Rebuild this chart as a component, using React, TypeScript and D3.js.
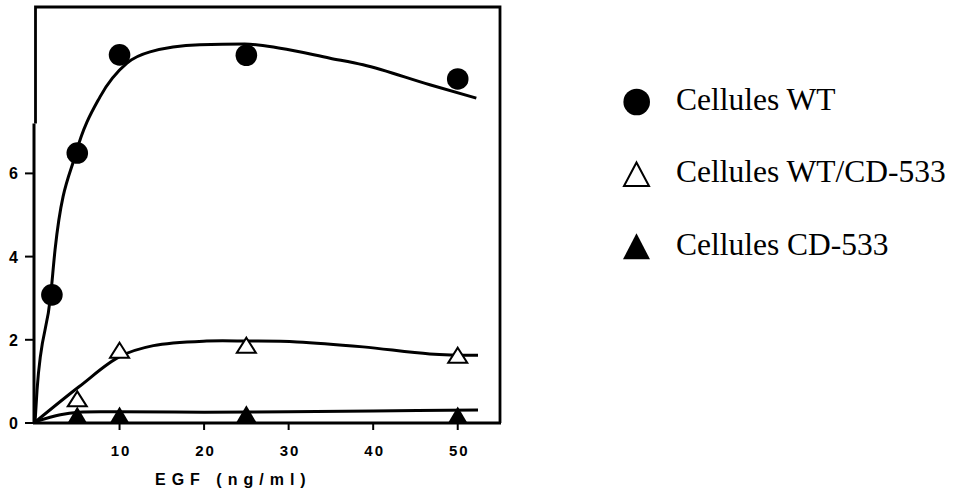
import React from "react";
import * as d3 from "d3";

// ---- Data ----
const wtX = [2, 5, 10, 25, 50];
const wtY = [3.08, 6.49, 8.85, 8.84, 8.27];

const mixX = [5, 10, 25, 50];
const mixY = [0.58, 1.75, 1.87, 1.63];

const cdX = [5, 10, 25, 50];
const cdY = [0.19, 0.19, 0.22, 0.19];

// fitted curves drawn by hand in the original
const wtFitX = [0, 0.24, 1.86, 2.37, 4.85, 7.69, 10.88, 13.6, 19.5, 24.8, 29.0, 34.9, 38.8, 46.7, 52.2];
const wtFitY = [0, 0.79, 3.08, 4.16, 6.49, 7.84, 8.65, 8.92, 9.09, 9.11, 9.01, 8.77, 8.61, 8.13, 7.81];

const mixFitX = [0, 5.2, 10.05, 14, 20.3, 25.2, 31.0, 38.8, 46.7, 52.4];
const mixFitY = [0.02, 0.87, 1.6, 1.86, 1.97, 1.97, 1.95, 1.83, 1.66, 1.63];

const cdFitX = [0, 3, 5.2, 10, 20, 30, 40, 52.4];
const cdFitY = [0.03, 0.2, 0.26, 0.27, 0.26, 0.27, 0.29, 0.31];

const xTicks = [10, 20, 30, 40, 50];
const yTicks = [0, 2, 4, 6];
const xLabel = "EGF (ng/ml)";
const legendLabels = ["Cellules WT", "Cellules WT/CD-533", "Cellules CD-533"];

const W = 954;
const H = 490;

function tri(cx: number, cy: number, w: number, h: number) {
  return `M${cx},${cy - h / 2}L${cx + w / 2},${cy + h / 2}L${cx - w / 2},${cy + h / 2}Z`;
}

export default function App() {
  const x = d3.scaleLinear().domain([0, 55]).range([35, 500]);
  const y = d3.scaleLinear().domain([0, 10]).range([423, 7]);

  const mono = d3
    .line<[number, number]>()
    .x((d) => x(d[0]))
    .y((d) => y(d[1]))
    .curve(d3.curveMonotoneX);
  const smooth = d3
    .line<[number, number]>()
    .x((d) => x(d[0]))
    .y((d) => y(d[1]))
    .curve(d3.curveCatmullRom.alpha(0.5));

  const zip = (a: number[], b: number[]) => a.map((v, i) => [v, b[i]] as [number, number]);

  const tickFont = "'Liberation Sans', Arial, sans-serif";
  const serif = "'Liberation Serif', 'Times New Roman', serif";

  const legendBase = [109.5, 182, 255];

  return (
    <svg
      width={W}
      height={H}
      style={{ position: "absolute", left: 0, top: 0, background: "#fff" }}
    >
      <rect x={0} y={0} width={W} height={H} fill="#fff" />
      {/* frame */}
      <path
        d={`M${x(0) + 0.5},${y(7.2)}L${x(0) + 0.5},${y(10)}L${x(55)},${y(10)}L${x(55)},${y(0)}`}
        fill="none"
        stroke="#000"
        strokeWidth={2.8}
      />
      {/* y axis */}
      <line x1={x(0) - 1} x2={x(0) - 1} y1={y(0)} y2={y(7.2)} stroke="#000" strokeWidth={3} />
      {/* x axis */}
      <line x1={x(0) - 2} x2={x(55) + 1} y1={y(0)} y2={y(0)} stroke="#000" strokeWidth={3} />

      {yTicks.map((t) => (
        <g key={"y" + t}>
          <line x1={25} x2={x(0)} y1={y(t)} y2={y(t)} stroke="#000" strokeWidth={2} />
          <text
            x={13.5}
            y={y(t) + 6}
            textAnchor="middle"
            fontFamily={tickFont}
            fontWeight="bold"
            fontSize={16}
            fill="#000"
          >
            {t}
          </text>
        </g>
      ))}
      {xTicks.map((t) => (
        <g key={"x" + t}>
          <line x1={x(t)} x2={x(t)} y1={y(0)} y2={y(0) + 7} stroke="#000" strokeWidth={2} />
          <text
            x={x(t) + 1.5}
            y={456}
            textAnchor="middle"
            fontFamily={tickFont}
            fontWeight="bold"
            fontSize={15}
            letterSpacing={2}
            fill="#000"
          >
            {t}
          </text>
        </g>
      ))}
      <text
        x={155}
        y={485}
        fontFamily={tickFont}
        fontWeight="bold"
        fontSize={16}
        letterSpacing={6}
        fill="#000"
      >
        {xLabel}
      </text>

      {/* fitted curves */}
      <path d={mono(zip(wtFitX, wtFitY)) || ""} fill="none" stroke="#000" strokeWidth={3} />
      <path d={smooth(zip(mixFitX, mixFitY)) || ""} fill="none" stroke="#000" strokeWidth={3} />
      <path d={smooth(zip(cdFitX, cdFitY)) || ""} fill="none" stroke="#000" strokeWidth={3} />

      {/* markers */}
      {wtX.map((v, i) => (
        <circle key={"wt" + i} cx={x(v)} cy={y(wtY[i])} r={10.8} fill="#000" />
      ))}
      {mixX.map((v, i) => (
        <path
          key={"mx" + i}
          d={tri(x(v), y(mixY[i]), 19, 15)}
          fill="#fff"
          stroke="#000"
          strokeWidth={2}
          strokeLinejoin="miter"
        />
      ))}
      {cdX.map((v, i) => (
        <path key={"cd" + i} d={tri(x(v), y(cdY[i]), 20, 17)} fill="#000" />
      ))}

      {/* legend */}
      <circle cx={636.7} cy={102} r={13.3} fill="#000" />
      <path d={tri(636.5, 174.2, 25, 23.5)} fill="#fff" stroke="#000" strokeWidth={2} />
      <path d={tri(636.5, 246.3, 27, 26)} fill="#000" />
      {legendLabels.map((s, i) => (
        <text
          key={s}
          x={676}
          y={legendBase[i]}
          fontFamily={serif}
          fontSize={31.5}
          fill="#000"
        >
          {s}
        </text>
      ))}
    </svg>
  );
}
